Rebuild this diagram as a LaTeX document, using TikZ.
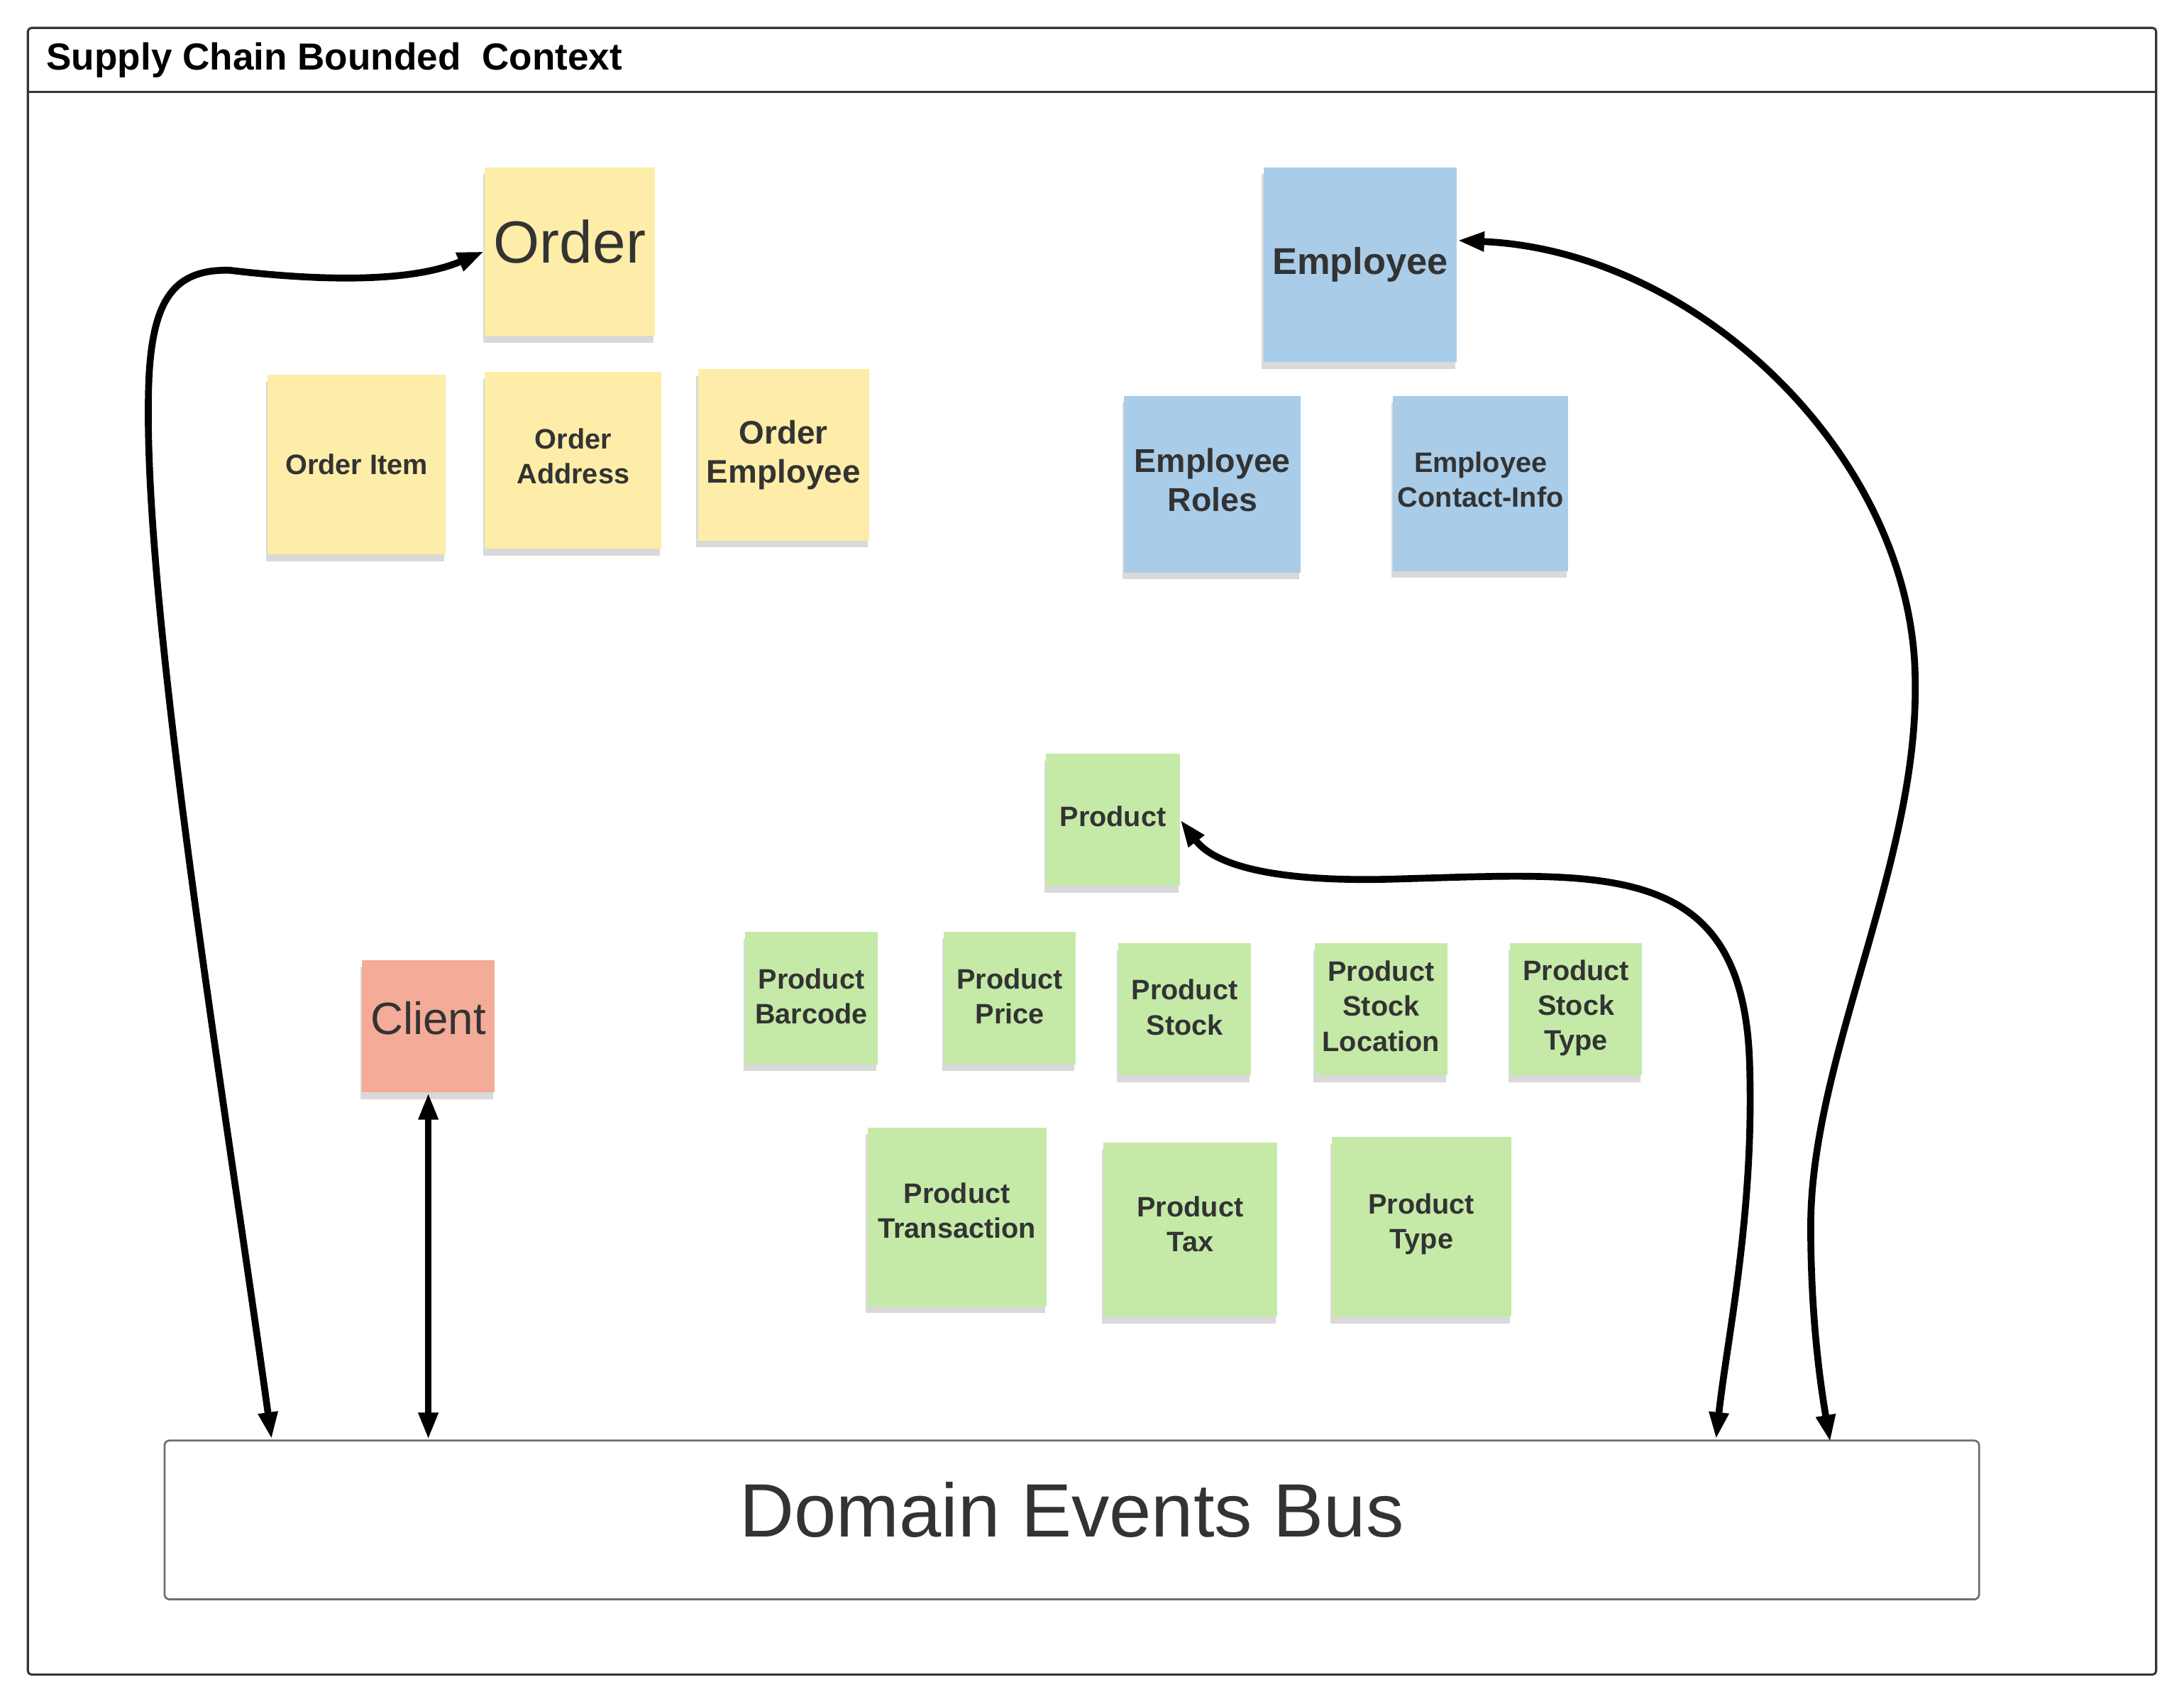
\documentclass[tikz,border=0pt]{standalone}
\usepackage{fontspec}
\setmainfont{Liberation Sans}
\definecolor{myyellow}{RGB}{254,237,168}
\definecolor{myblue}{RGB}{169,204,232}
\definecolor{mygreen}{RGB}{197,234,168}
\definecolor{mysalmon}{RGB}{244,171,151}
\definecolor{mytext}{RGB}{51,51,51}
\definecolor{myframe}{RGB}{55,55,55}
\definecolor{mybus}{RGB}{110,110,110}
\usetikzlibrary{arrows.meta,shadows,calc}
\tikzset{>={Triangle[length=11pt,width=7.5pt]}}

\begin{document}
\begin{tikzpicture}[x=0.02cm, y=-0.02cm, note/.style = {fill=#1, text=mytext, align=center, inner sep=0pt, drop shadow={shadow xshift=-0.6pt, shadow yshift=-2.8pt, opacity=0.3}}, smallfont/.style = {font=\fontsize{11.5}{14.3}\selectfont\bfseries}, midfont/.style = {font=\fontsize{13.3}{16}\selectfont\bfseries}, link/.style = {<->, line width=2.8pt}]
    \useasboundingbox (0,0) rectangle (1568,1223);
    % bounded context frame
    \draw[myframe, line width=0.9pt, rounded corners=1.5pt] (20,20) rectangle (1548,1202);
    \draw[myframe, line width=0.9pt] (20,66) -- (1548,66);
    \node[anchor=west, inner sep=0pt, font=\fontsize{15.4}{18}\selectfont\bfseries] (title) at (33,43) {Supply Chain Bounded~ Context};

    % order
    \node[note=myyellow, minimum width=2.44cm, minimum height=2.42cm, text depth=8pt, font=\fontsize{24.3}{28}\selectfont] (order) at (409,180.5) {Order};
    \node[note=myyellow, smallfont, minimum width=2.56cm, minimum height=2.58cm] (orderitem) at (256,333.5) {Order Item};
    \node[note=myyellow, smallfont, minimum size=2.54cm, text depth=3.4pt] (orderaddress) at (411.5,330.5) {Order\\Address};
    \node[note=myyellow, midfont, minimum size=2.46cm] (orderemployee) at (562.5,326.5) {Order\\Employee};

    % employee
    \node[note=myblue, minimum width=2.78cm, minimum height=2.80cm, font=\fontsize{15.2}{18}\selectfont\bfseries] (employee) at (976.5,190) {Employee};
    \node[note=myblue, minimum size=2.54cm, text depth=3.4pt, font=\fontsize{13.5}{16}\selectfont\bfseries] (employeeroles) at (870.5,347.5) {Employee\\Roles};
    \node[note=myblue, smallfont, minimum size=2.52cm, text depth=3.4pt] (employeecontact) at (1063,347) {Employee\\Contact-Info};

    % product
    \node[note=mygreen, smallfont, minimum width=1.92cm, minimum height=1.90cm, text depth=2.8pt] (product) at (799,588.5) {Product};
    \foreach \name/\x/\y/\d/\txt in {productbarcode/582.5/716.5/1.7/{Product\\Barcode}, productprice/725/716.5/1.7/{Product\\Price}, productstock/850.5/724.5/1.7/{Product\\Stock}, productlocation/991.5/724.5/2.8/{Product\\Stock\\Location}, productstocktype/1131.5/724.5/3.5/{Product\\Stock\\Type}}
    {%
        \node[note=mygreen, smallfont, minimum size=1.90cm, text depth=\d pt] (\name) at (\x,\y) {\txt};
    };
    \foreach \name/\x/\y/\s/\d/\txt in {producttransaction/687/873.5/2.57/5.2/{Product\\Transaction}, producttax/854.5/882.5/2.50/4.6/{Product\\Tax}, producttype/1020.5/880.5/2.58/4.6/{Product\\Type}}
    {%
        \node[note=mygreen, smallfont, minimum size=\s cm, text depth=\d pt] (\name) at (\x,\y) {\txt};
    };

    % client
    \node[note=mysalmon, minimum size=1.90cm, text depth=6.8pt, font=\fontsize{18.5}{22}\selectfont] (client) at (307.5,736.5) {Client};

    % bus
    \node[draw=mybus, line width=0.8pt, rounded corners=2pt, minimum width=26.06cm, minimum height=2.28cm, text depth=8.5pt, text=mytext, font=\fontsize{30.9}{36}\selectfont] (bus) at (769.5,1091) {Domain Events Bus};
    \coordinate (busorder) at (195,1033);
    \coordinate (busproduct) at (1232,1033);
    \coordinate (busemployee) at (1314,1035);

    % connectors
    \draw[link] (busorder) .. controls (160,780) and (100,420) .. (107,270) .. controls (110,215) and (125,193) .. (165,194) .. controls (215,200) and (290,205) .. (order.west);
    \draw[link] (client.south) -- (client.south |- bus.north);
    \draw[link] (product.east) .. controls (875,625) and (930,633) .. (1000,631) .. controls (1150,627) and (1250,615) .. (1256,760) .. controls (1260,870) and (1240,960) .. (busproduct);
    \draw[link] (employee.14) .. controls (1220,180) and (1375,330) .. (1375,490) .. controls (1377,620) and (1300,760) .. (1300,880) .. controls (1300,950) and (1308,1000) .. (busemployee);
\end{tikzpicture}
\end{document}
